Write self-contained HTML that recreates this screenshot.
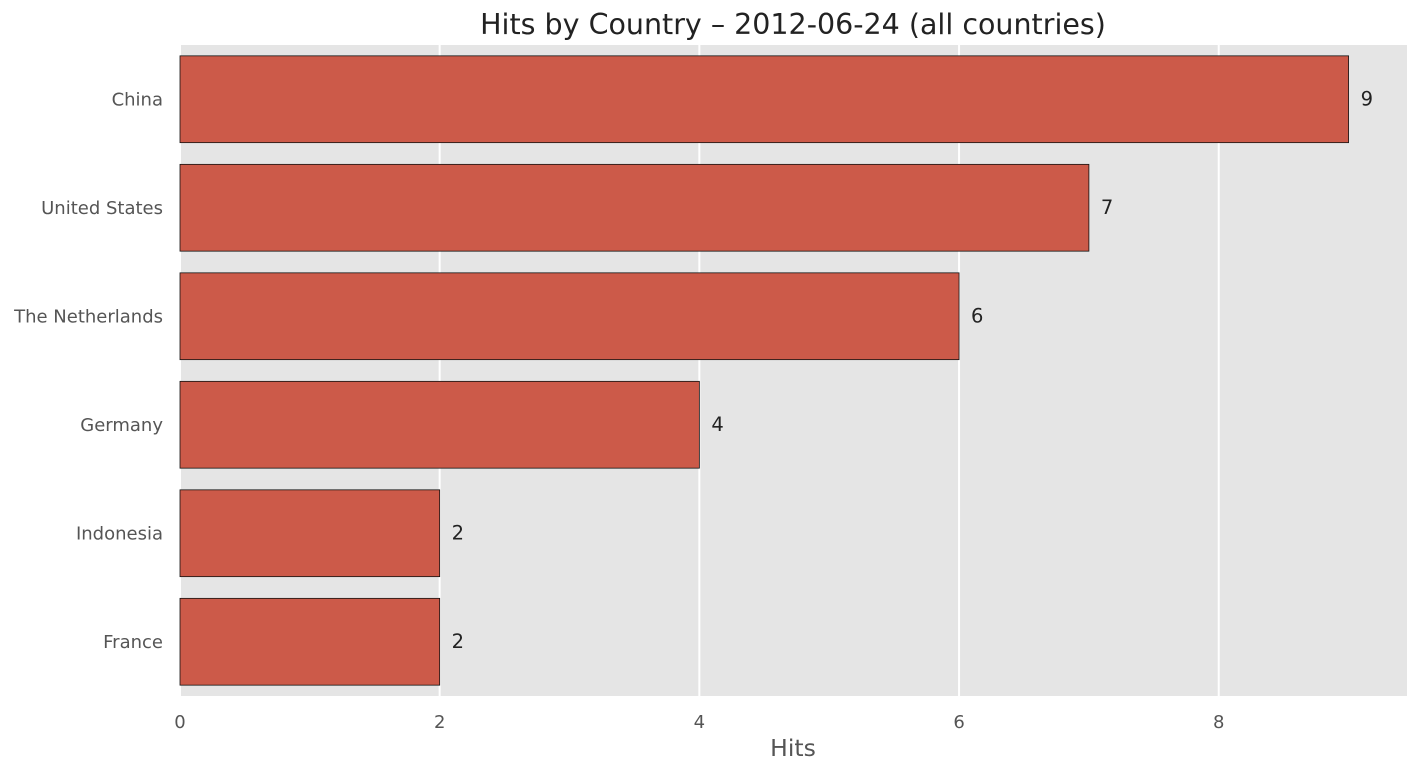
<!DOCTYPE html>
<html>
<head>
<meta charset="utf-8">
<style>
  html,body{margin:0;padding:0;background:#fff;}
  svg{display:block;font-family:"DejaVu Sans","Liberation Sans",sans-serif;}
</style>
</head>
<body>
<svg id="chart" width="1419" height="773" viewBox="0 0 1419 773" xmlns="http://www.w3.org/2000/svg">
  <rect x="180" y="45" width="1227" height="651" fill="#e5e5e5"/>
  <g id="grid"></g>
  <g id="bars"></g>
  <g id="labels"></g>
  <g id="xticks"></g>
  <g id="yticks"></g>
  <text x="793" y="34" text-anchor="middle" font-size="28.5" fill="#222">Hits by Country – 2012-06-24 (all countries)</text>
  <text x="793" y="756" text-anchor="middle" font-size="23.5" fill="#555">Hits</text>
</svg>
<script>
const categories = ["China","United States","The Netherlands","Germany","Indonesia","France"];
const values = [9,7,6,4,2,2];
const xTicks = [0,2,4,6,8];

const NS = "http://www.w3.org/2000/svg";
const plotL = 180, plotR = 1407, plotT = 45, plotB = 696;
const xMax = 9.45;
const x = v => plotL + v / xMax * (plotR - plotL);
const band = (plotB - plotT) / categories.length;
const yc = i => plotT + band * (i + 0.5);
const barH = band * 0.8;

function mk(tag, attrs, parent){
  const el = document.createElementNS(NS, tag);
  for (const k in attrs) el.setAttribute(k, attrs[k]);
  document.getElementById(parent).appendChild(el);
  return el;
}

xTicks.forEach(t => {
  const g = mk("line", {x1:x(t), x2:x(t), y1:plotT, y2:plotB, stroke:"#fff", "stroke-width":2}, "grid");
  
  
  const tl = mk("text", {x:x(t), y:plotB+32, "text-anchor":"middle", "font-size":18, fill:"#555"}, "xticks");
  tl.textContent = t;
  
  
});

categories.forEach((c, i) => {
  const v = values[i];
  const r = mk("rect", {x:x(0), y:yc(i)-barH/2, width:x(v)-x(0), height:barH, fill:"#cc5a49", stroke:"#111", "stroke-width":0.8}, "bars");
  
  
  const vl = mk("text", {x:x(v)+12, y:yc(i)+6, "font-size":19.5, fill:"#222"}, "labels");
  vl.textContent = v;
  
  
  const yl = mk("text", {x:163, y:yc(i)+6, "text-anchor":"end", "font-size":18, fill:"#555"}, "yticks");
  yl.textContent = c;
  
  
});
</script>
</body>
</html>
